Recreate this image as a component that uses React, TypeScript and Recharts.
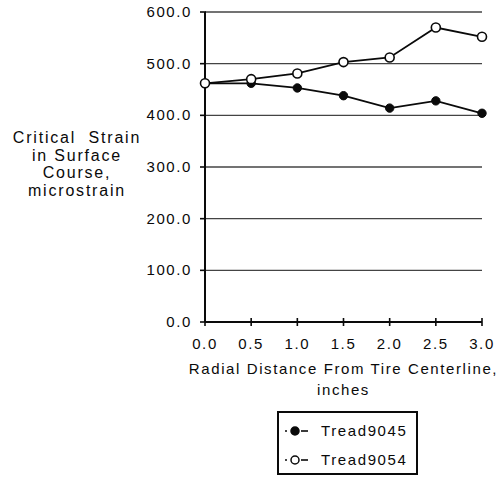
import React from "react";
import { LineChart, Line, XAxis, YAxis, CartesianGrid, Legend } from "recharts";

// Radial distance from the tire centerline (inches)
const distances = [0.0, 0.5, 1.0, 1.5, 2.0, 2.5, 3.0];
// Critical strain in the surface course (microstrain)
const tread9045 = [462, 462, 453, 438, 414, 428, 404];
const tread9054 = [462, 470, 481, 503, 512, 570, 552];
const xTicks = [0, 0.5, 1, 1.5, 2, 2.5, 3];
const yTicks = [0, 100, 200, 300, 400, 500, 600];
const seriesNames = ["Tread9045", "Tread9054"];
const yTitleLines = ["Critical  Strain", "in Surface", "Course,", "microstrain"];
const xTitleLines = ["Radial Distance From Tire Centerline,", "inches"];

const rows = distances.map((d, i) => ({
  d,
  [seriesNames[0]]: tread9045[i],
  [seriesNames[1]]: tread9054[i],
}));

const FONT = "'Liberation Sans', Arial, Helvetica, sans-serif";
const FS = 15;
const LS = 1.6;
const INK = "#0a0a0a";

const XTick = (props: any) => {
  const { x, y, payload } = props;
  return (
    <g>
      <line x1={x} x2={x} y1={y - 4} y2={y + 4} stroke={INK} strokeWidth={1.6} />
      <text x={x} y={y + 27} textAnchor="middle" fontFamily={FONT} fontSize={FS} letterSpacing={LS} fill={INK}>
        {Number(payload.value).toFixed(1)}
      </text>
    </g>
  );
};

const YTick = (props: any) => {
  const { x, y, payload } = props;
  return (
    <g>
      <line x1={x - 5} x2={x + 1} y1={y} y2={y} stroke={INK} strokeWidth={1.6} />
      <text x={x - 13} y={y + 5} textAnchor="end" fontFamily={FONT} fontSize={FS} letterSpacing={LS} fill={INK}>
        {Number(payload.value).toFixed(1)}
      </text>
    </g>
  );
};

const XTitle = (props: any) => {
  const { viewBox } = props;
  const cx = viewBox.x + viewBox.width / 2;
  return (
    <g>
      {xTitleLines.map((t, i) => (
        <text key={t} x={cx} y={viewBox.y + 52 + i * 21} textAnchor="middle" fontFamily={FONT} fontSize={FS} letterSpacing={LS} fill={INK}>
          {t}
        </text>
      ))}
    </g>
  );
};

const YTitle = (props: any) => {
  const { viewBox } = props;
  return (
    <g>
      {yTitleLines.map((t, i) => (
        <text key={t} x={viewBox.x - 68} y={viewBox.y + 131 + i * 17.5} textAnchor="middle" fontFamily={FONT} fontSize={16} letterSpacing={1.8} fill={INK} style={{ whiteSpace: "pre" }}>
          {t}
        </text>
      ))}
    </g>
  );
};

const LegendBox = (props: any) => {
  const { payload } = props;
  return (
    <div
      style={{
        width: 137,
        height: 60,
        border: `2px solid ${INK}`,
        boxSizing: "content-box",
        background: "#fff",
        fontFamily: FONT,
        fontSize: FS,
        letterSpacing: LS,
        color: INK,
      }}
    >
      {payload.map((p: any, i: number) => (
        <div key={p.value} style={{ display: "flex", alignItems: "center", height: 29, marginTop: i === 0 ? 3 : 0 }}>
          <svg width={38} height={14} style={{ marginLeft: 4 }}>
            <circle cx={3} cy={7} r={1} fill={INK} />
            <line x1={18} x2={25} y1={7} y2={7} stroke={INK} strokeWidth={1.6} />
            <circle cx={12} cy={7} r={4} fill={i === 0 ? INK : "#fff"} stroke={INK} strokeWidth={1.5} />
          </svg>
          <span>{p.value}</span>
        </div>
      ))}
    </div>
  );
};

export default function App() {
  return (
    <div style={{ position: "absolute", left: 0, top: 0, background: "#fff" }}>
      <LineChart width={502} height={478} data={rows} margin={{ top: 12, right: 20, bottom: 62, left: 145 }}>
        <CartesianGrid horizontal vertical={false} stroke="#444" strokeWidth={1.4} />
        <XAxis
          dataKey="d"
          type="number"
          domain={[0, 3]}
          ticks={xTicks}
          height={30}
          tickSize={0}
          tickMargin={0}
          tick={<XTick />}
          axisLine={{ stroke: INK, strokeWidth: 2 }}
          tickLine={false}
          label={<XTitle />}
        />
        <YAxis
          type="number"
          domain={[0, 600]}
          ticks={yTicks}
          width={60}
          tickSize={0}
          tickMargin={0}
          tick={<YTick />}
          axisLine={{ stroke: INK, strokeWidth: 2 }}
          tickLine={false}
          label={<YTitle />}
        />
        <Legend
          layout="vertical"
          content={<LegendBox />}
          wrapperStyle={{ position: "absolute", left: 277, top: 411, width: 141 }}
        />
        <Line
          dataKey={seriesNames[0]}
          stroke={INK}
          strokeWidth={1.8}
          dot={{ r: 4.2, fill: INK, stroke: INK, strokeWidth: 1 }}
          isAnimationActive={false}
        />
        <Line
          dataKey={seriesNames[1]}
          stroke={INK}
          strokeWidth={1.8}
          dot={{ r: 4.5, fill: "#fff", stroke: INK, strokeWidth: 1.6 }}
          isAnimationActive={false}
        />
      </LineChart>
    </div>
  );
}
